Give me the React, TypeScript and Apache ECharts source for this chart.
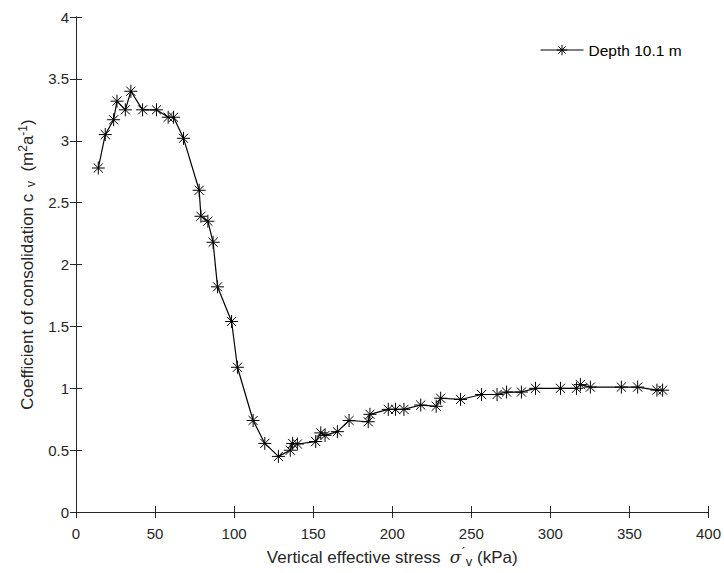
import React, { useEffect, useRef } from "react";
import * as echarts from "echarts";

const stress = [14.1, 18.5, 23.8, 25.9, 31.2, 34.7, 42.1, 50.9, 58.3, 61.7, 68, 77.9, 79, 83.4, 86.7, 89.5, 98.4, 102.1, 112, 119.4, 128, 135.5, 137, 140, 151.6, 154.8, 157.5, 165.3, 172.7, 184.8, 185.9, 197.5, 202.1, 207.4, 218, 227.8, 230.6, 243.2, 256.5, 266.3, 272.3, 281.7, 290.6, 306.4, 316.5, 319, 325.3, 344.9, 355.2, 367.4, 371];
const cv = [2.78, 3.05, 3.17, 3.32, 3.25, 3.4, 3.25, 3.25, 3.19, 3.19, 3.02, 2.6, 2.39, 2.35, 2.18, 1.82, 1.54, 1.17, 0.74, 0.555, 0.45, 0.5, 0.555, 0.55, 0.57, 0.64, 0.62, 0.65, 0.74, 0.73, 0.79, 0.83, 0.83, 0.83, 0.865, 0.855, 0.92, 0.91, 0.95, 0.95, 0.97, 0.97, 1.0, 1.0, 1.0, 1.03, 1.01, 1.01, 1.01, 0.985, 0.985];
const seriesName = "Depth 10.1 m";

const AXIS_COLOR = "#262626";
const FONT = "Liberation Sans, Arial, Helvetica, sans-serif";
const STAR = "path://M0,-10 L0,10 M-10,0 L10,0 M-7,-7 L7,7 M-7,7 L7,-7";

export default function App() {
  const ref = useRef<HTMLDivElement>(null);
  useEffect(() => {
    document.body.style.margin = "0";
    if (!ref.current) return;
    const chart = echarts.init(ref.current, undefined, { renderer: "svg" });
    const axisCommon = {
      axisLine: { show: true, lineStyle: { color: AXIS_COLOR, width: 1 } },
      axisTick: { show: true, inside: true, length: 6, lineStyle: { color: AXIS_COLOR } },
      splitLine: { show: false },
    };
    chart.setOption({
      animation: false,
      backgroundColor: "#ffffff",
      textStyle: { fontFamily: FONT },
      grid: { left: 76, right: 13, top: 17, bottom: 54 },
      legend: {
        left: 535,
        top: 37,
        itemWidth: 43,
        itemHeight: 13,
        itemGap: 5,
        lineStyle: { width: 1, color: "#000" },
        itemStyle: { color: "none", borderColor: "#000", borderWidth: 1 },
        textStyle: { fontSize: 15.5, color: "#000", fontFamily: FONT },
        data: [seriesName],
      },
      xAxis: [
        {
          type: "value",
          min: 0,
          max: 400,
          interval: 50,
          position: "bottom",
          ...axisCommon,
          axisLabel: { fontSize: 15, color: AXIS_COLOR, margin: 14 },
          name: "{a|Vertical effective stress  }{it|σ}{sup|´}{sub|v}{a| (kPa)}",
          nameLocation: "middle",
          nameGap: 32,
          nameTextStyle: {
            rich: {
              a: { fontSize: 17, color: AXIS_COLOR, fontFamily: FONT },
              it: { fontSize: 17, color: AXIS_COLOR, fontStyle: "italic", fontFamily: "DejaVu Serif, serif" },
              sup: { fontSize: 13, color: AXIS_COLOR, verticalAlign: "top", padding: [0, 0, 6, 0] },
              sub: { fontSize: 13, color: AXIS_COLOR, verticalAlign: "bottom", padding: [9, 0, 0, 0] },
            },
          },
        },
        {
          type: "value",
          min: 0,
          max: 400,
          interval: 50,
          position: "top",
          ...axisCommon,
          axisLabel: { show: false },
        },
      ],
      yAxis: [
        {
          type: "value",
          min: 0,
          max: 4,
          interval: 0.5,
          position: "left",
          ...axisCommon,
          axisLabel: { fontSize: 15, color: AXIS_COLOR, margin: 7 },
          name: "{a|Coefficient of consolidation c}{sub|  v}{a|  (m}{sup|2}{a|a}{sup|-1}{a|)}",
          nameLocation: "middle",
          nameGap: 35,
          nameTextStyle: {
            rich: {
              a: { fontSize: 17, color: AXIS_COLOR, fontFamily: FONT },
              sup: { fontSize: 12, color: AXIS_COLOR, verticalAlign: "top", padding: [0, 0, 7, 0] },
              sub: { fontSize: 12, color: AXIS_COLOR, verticalAlign: "bottom", padding: [8, 0, 0, 0] },
            },
          },
        },
        {
          type: "value",
          min: 0,
          max: 4,
          interval: 0.5,
          position: "right",
          ...axisCommon,
          axisLabel: { show: false },
        },
      ],
      series: [
        {
          name: seriesName,
          type: "line",
          xAxisIndex: 0,
          yAxisIndex: 0,
          data: stress.map((s, i) => [s, cv[i]]),
          symbol: STAR,
          symbolSize: 13,
          showAllSymbol: true,
          lineStyle: { color: "#000", width: 1.2 },
          itemStyle: { color: "none", borderColor: "#000", borderWidth: 1 },
        },
      ],
    });
    return () => chart.dispose();
  }, []);
  return <div ref={ref} style={{ width: 724, height: 573 }} />;
}
